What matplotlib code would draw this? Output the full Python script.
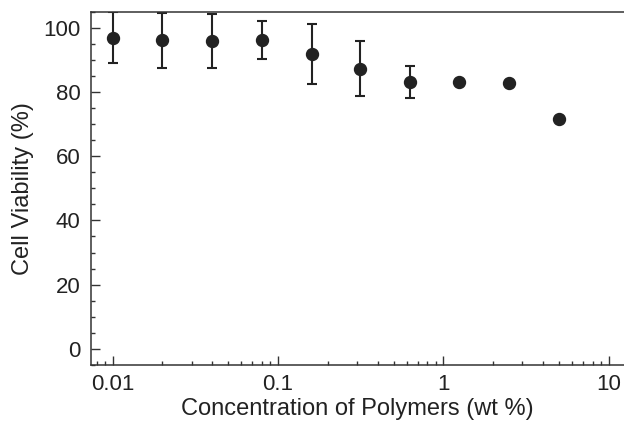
import numpy as np
import matplotlib
matplotlib.use("Agg")
import matplotlib.pyplot as plt
from matplotlib.ticker import MultipleLocator, FixedLocator, NullFormatter

plt.rcParams['font.family'] = ['Liberation Sans', 'DejaVu Sans']

# concentration (wt %), viability (%), error (only first 7 have bars)
conc = [0.01, 0.02, 0.04, 0.08, 0.16, 0.3125, 0.625, 1.25, 2.5, 5.0]
viab = [97.1, 96.2, 96.1, 96.3, 91.9, 87.4, 83.2, 83.3, 82.9, 71.8]
err = [8.0, 8.5, 8.4, 6.0, 9.3, 8.5, 5.0]
xticks = [0.01, 0.1, 1, 10]
xticklabels = ['0.01', '0.1', '1', '10']

col = '#222222'
fig = plt.figure(figsize=(6.24, 4.23), dpi=100)
ax = fig.add_axes([0.1466, 0.138, 0.8534, 0.833])

n = len(err)
ax.errorbar(conc[:n], viab[:n], yerr=err, fmt='none', ecolor=col,
            elinewidth=1.5, capsize=3.6, capthick=1.5)
ax.plot(conc, viab, 'o', color=col, markersize=8.6)

ax.set_xscale('log')
ax.set_xlim(0.00745, 12.35)
ax.set_ylim(-5, 105)

ax.set_xticks(xticks)
ax.set_xticklabels(xticklabels)
minor = [m * 10.0**d for d in range(-3, 2) for m in range(2, 10)]
ax.xaxis.set_minor_locator(FixedLocator(minor))
ax.xaxis.set_minor_formatter(NullFormatter())
ax.yaxis.set_major_locator(MultipleLocator(20))
ax.yaxis.set_minor_locator(MultipleLocator(5))

ax.tick_params(which='both', direction='in', top=False, right=False,
               colors='#333333', labelcolor='#222222', width=1.0)
ax.tick_params(which='major', length=6.5, labelsize=16, pad=8)
ax.tick_params(which='minor', length=3.2)
ax.tick_params(axis='x', which='major', pad=7)

for s in ax.spines.values():
    s.set_color('#333333')
    s.set_linewidth(1.1)
ax.spines['right'].set_visible(False)

ax.set_xlabel('Concentration of Polymers (wt %)', fontsize=17, color='#222222', labelpad=2)
ax.set_ylabel('Cell Viability (%)', fontsize=17, color='#222222')
ax.yaxis.set_label_coords(-0.108, 0.5)

fig.savefig('out.png', dpi=100)
